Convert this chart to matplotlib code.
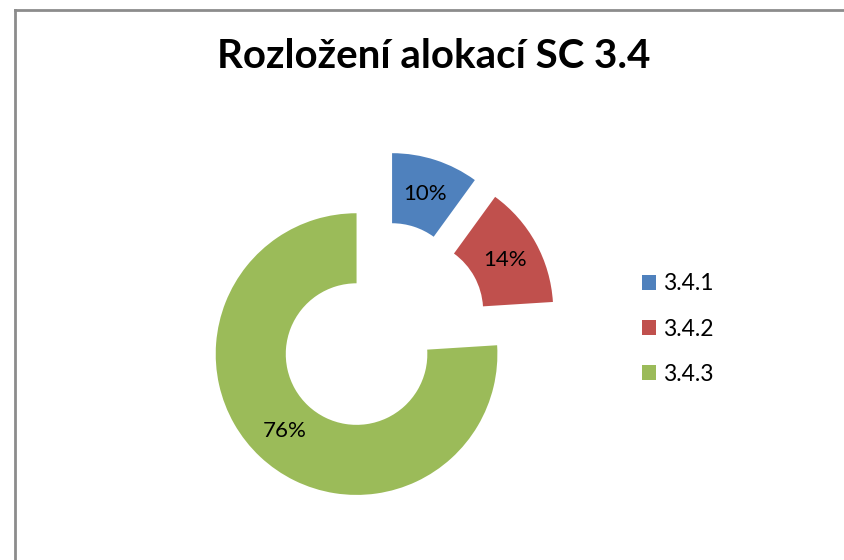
import matplotlib.pyplot as plt
from matplotlib.lines import Line2D

# === Data ===
labels = ["3.4.1", "3.4.2", "3.4.3"]
shares = [10, 14, 76]
colors = ["#4F81BD", "#C0504D", "#9BBB59"]
title = "Rozložení alokací SC 3.4"

plt.rcParams['font.family'] = ['Lato', 'DejaVu Sans']

fig = plt.figure(figsize=(8.44, 5.6), dpi=100)
fig.patch.set_facecolor('white')

# frame around the chart area (only top and left visible in the crop)
fig.add_artist(Line2D([15 / 844, 1], [1 - 10 / 560, 1 - 10 / 560],
                      transform=fig.transFigure, color='#8c8c8c', lw=2))
fig.add_artist(Line2D([15 / 844, 15 / 844], [0, 1 - 10 / 560],
                      transform=fig.transFigure, color='#8c8c8c', lw=2))

# square axes centred on the donut
ax = fig.add_axes([0.1973, 0.03125, 0.5083, 0.766])
wedges, texts, autotexts = ax.pie(
    shares,
    colors=colors,
    startangle=90,
    counterclock=False,
    explode=[0.25] * len(shares),
    autopct='%1.0f%%',
    pctdistance=0.75,
    radius=0.985,
    wedgeprops=dict(width=0.49, edgecolor='none'),
    textprops=dict(fontsize=16, color='black'),
)
ax.set_xlim(-1.5, 1.5)
ax.set_ylim(-1.5, 1.5)
ax.set_aspect('equal')
ax.axis('off')

fig.text(434 / 844, 1 - 57 / 560, title, ha='center', va='center',
         fontsize=29, fontweight='bold')

fig.legend(wedges, labels, loc='center left',
           bbox_to_anchor=(621 / 844, 1 - 329 / 560),
           frameon=False, fontsize=16.5, labelspacing=1.05,
           handlelength=0.62, handleheight=0.62, handletextpad=0.3)

fig.savefig('out.png', dpi=100)
